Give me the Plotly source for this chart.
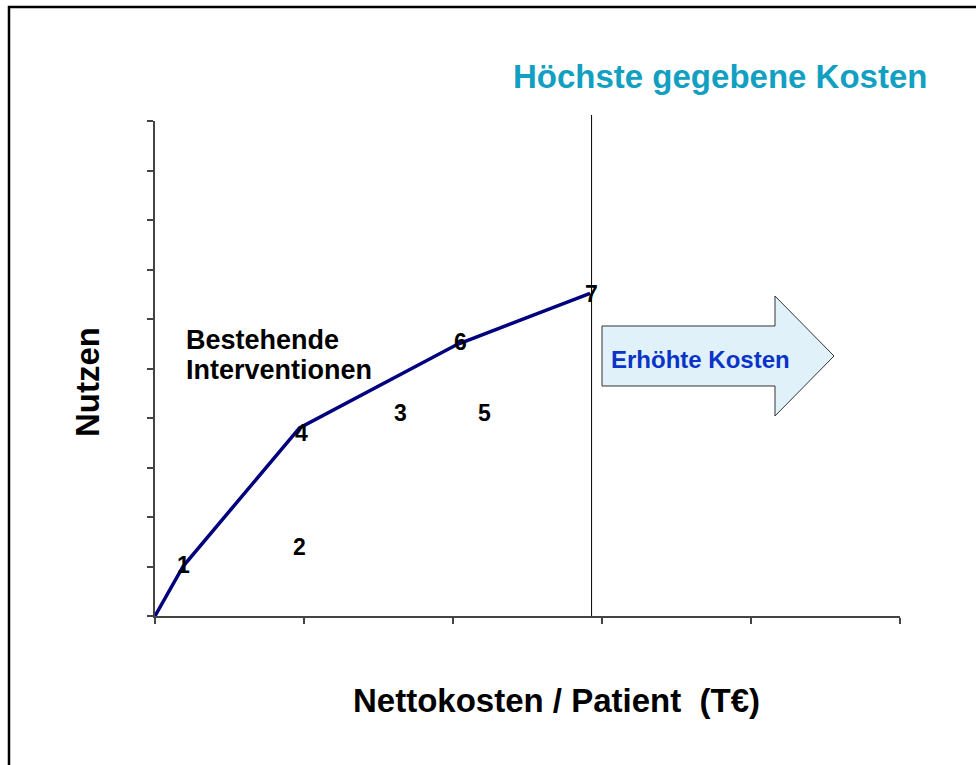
import plotly.graph_objects as go

# ---- data ----
frontier_x = [0, 0.19, 0.97, 2.03, 2.92]
frontier_y = [0, 1.01, 3.80, 5.49, 6.52]

point_labels = ["1", "2", "3", "4", "5", "6", "7"]
point_x = [0.19, 0.97, 1.65, 0.98, 2.21, 2.05, 2.93]
point_y = [1.03, 1.39, 4.10, 3.70, 4.10, 5.54, 6.50]

max_cost_x = 2.93
x_ticks = [0, 1, 2, 3, 4, 5]
y_ticks = [0, 1, 2, 3, 4, 5, 6, 7, 8, 9, 10]

# ---- layout geometry (pixels) ----
W, H = 976, 765
L, R, T, B = 155, 900, 121, 616
FONT = "Arial, Liberation Sans, sans-serif"


def px(xp):
    return (xp - L) / (R - L)


def py(yp):
    return (B - yp) / (B - T)


fig = go.Figure()
fig.add_trace(go.Scatter(
    x=frontier_x, y=frontier_y, mode="lines",
    line=dict(color="#00007F", width=3.5),
    hoverinfo="skip", showlegend=False,
))

annotations = []
for t, xv, yv in zip(point_labels, point_x, point_y):
    annotations.append(dict(
        x=xv, y=yv, xref="x", yref="y", text=f"<b>{t}</b>",
        showarrow=False, xanchor="center", yanchor="middle",
        font=dict(family=FONT, size=23, color="black"),
    ))

annotations += [
    dict(x=px(720), y=py(76), xref="paper", yref="paper",
         text="<b>Höchste gegebene Kosten</b>", showarrow=False,
         xanchor="center", yanchor="middle",
         font=dict(family=FONT, size=33, color="#12A0C2")),
    dict(x=px(184), y=py(340), xref="paper", yref="paper",
         text="<b>Bestehende</b>", showarrow=False,
         xanchor="left", yanchor="middle",
         font=dict(family=FONT, size=27, color="black")),
    dict(x=px(184), y=py(370), xref="paper", yref="paper",
         text="<b>Interventionen</b>", showarrow=False,
         xanchor="left", yanchor="middle",
         font=dict(family=FONT, size=27, color="black")),
    dict(x=px(700), y=py(359), xref="paper", yref="paper",
         text="<b>Erhöhte Kosten</b>", showarrow=False,
         xanchor="center", yanchor="middle",
         font=dict(family=FONT, size=24, color="#0A33C8")),
    dict(x=px(556), y=py(700), xref="paper", yref="paper",
         text="<b>Nettokosten / Patient  (T€)</b>", showarrow=False,
         xanchor="center", yanchor="middle",
         font=dict(family=FONT, size=33, color="black")),
    dict(x=px(87), y=py(382), xref="paper", yref="paper",
         text="<b>Nutzen</b>", showarrow=False, textangle=-90,
         xanchor="center", yanchor="middle",
         font=dict(family=FONT, size=33, color="black")),
]

# arrow (pixel outline converted to paper coords)
arrow_pts = [(602, 326), (775, 326), (775, 296), (834, 356),
             (775, 416), (775, 386), (602, 386)]
path = "M " + " L ".join(f"{px(a):.5f},{py(b):.5f}" for a, b in arrow_pts) + " Z"

shapes = [
    # outer frame (extends beyond right/bottom edges)
    dict(type="rect", xref="paper", yref="paper",
         x0=px(9), y0=py(900), x1=px(1100), y1=py(7),
         line=dict(color="black", width=2.5), fillcolor="rgba(0,0,0,0)",
         layer="above"),
    # highest given cost line
    dict(type="line", xref="x", yref="paper",
         x0=max_cost_x, x1=max_cost_x, y0=0, y1=py(115),
         line=dict(color="black", width=1)),
    dict(type="path", xref="paper", yref="paper", path=path,
         fillcolor="#E0F1F9", line=dict(color="#333333", width=1),
         layer="below"),
]

fig.update_layout(
    width=W, height=H,
    margin=dict(l=L, r=W - R, t=T, b=H - B, pad=0),
    paper_bgcolor="white", plot_bgcolor="white",
    showlegend=False,
    annotations=annotations,
    shapes=shapes,
    xaxis=dict(range=[0, 5], tickvals=x_ticks, showticklabels=False,
               ticks="outside", ticklen=6, tickwidth=1.5, tickcolor="#444",
               showline=True, linecolor="#444", linewidth=2,
               showgrid=False, zeroline=False, fixedrange=True),
    yaxis=dict(range=[0, 10], tickvals=y_ticks, showticklabels=False,
               ticks="outside", ticklen=6, tickwidth=1.5, tickcolor="#444",
               showline=True, linecolor="#444", linewidth=2,
               showgrid=False, zeroline=False, fixedrange=True),
)

fig.write_html(
    "out.html",
    config={"displayModeBar": False},
    post_script="document.body.style.margin='0';document.body.style.overflow='hidden';",
)
